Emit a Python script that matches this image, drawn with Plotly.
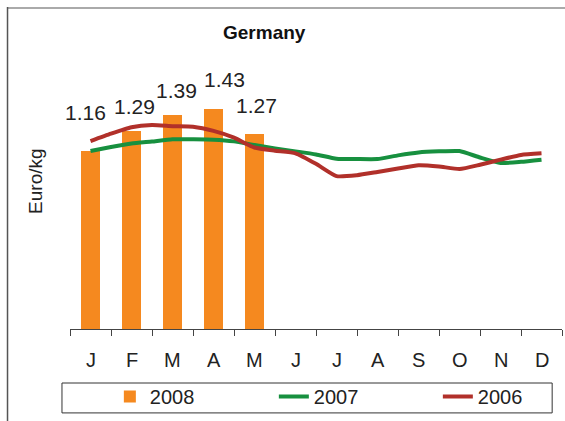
import plotly.graph_objects as go

MONTHS = ["J", "F", "M", "A", "M", "J", "J", "A", "S", "O", "N", "D"]

# 2008 monthly bars (Jan-May)
BAR_X = [0, 1, 2, 3, 4]
PRICE_2008 = [1.16, 1.29, 1.39, 1.43, 1.27]

# 2007 / 2006 lines, sampled every half month (0 = January)
LINE_X = [0, 0.5, 1, 1.5, 2, 2.5, 3, 3.5, 4, 4.5, 5, 5.5, 6, 6.5, 7, 7.5,
          8, 8.5, 9, 9.5, 10, 10.5, 11]
PRICE_2007 = [1.157, 1.183, 1.206, 1.219, 1.233, 1.233, 1.231, 1.220, 1.196,
              1.174, 1.155, 1.135, 1.107, 1.105, 1.105, 1.129, 1.148, 1.155,
              1.157, 1.115, 1.079, 1.087, 1.101]
PRICE_2006 = [1.222, 1.270, 1.312, 1.326, 1.319, 1.315, 1.288, 1.244, 1.180,
              1.159, 1.142, 1.074, 0.994, 1.000, 1.021, 1.043, 1.065, 1.057,
              1.040, 1.068, 1.101, 1.132, 1.142]

ORANGE = "#f5891f"
GREEN = "#17903f"
RED = "#b1302a"
FONT = "Liberation Sans, Arial, sans-serif"

fig = go.Figure()
fig.add_trace(go.Bar(x=BAR_X, y=PRICE_2008, name="2008", width=0.44,
                     marker=dict(color=ORANGE, line=dict(width=0))))
fig.add_trace(go.Scatter(x=LINE_X, y=PRICE_2007, name="2007", mode="lines",
                         line=dict(color=GREEN, width=4, shape="spline", smoothing=0.5)))
fig.add_trace(go.Scatter(x=LINE_X, y=PRICE_2006, name="2006", mode="lines",
                         line=dict(color=RED, width=4, shape="spline", smoothing=0.5)))

# value labels above the bars
label_dx = [-5, 3, 4, 11, 2]
label_dy = [38, 24, 25, 30, 28]
annotations = []
for i, v in enumerate(PRICE_2008):
    annotations.append(dict(x=BAR_X[i], y=v, xref="x", yref="y", text=f"{v:.2f}",
                            showarrow=False, xanchor="center", yanchor="middle",
                            xshift=label_dx[i], yshift=label_dy[i],
                            font=dict(family=FONT, size=21, color="#222")))
# month labels
for i, m in enumerate(MONTHS):
    annotations.append(dict(x=i, y=-0.12, xref="x", yref="paper", text=m,
                            showarrow=False, xanchor="center", yanchor="middle",
                            font=dict(family=FONT, size=20, color="#222")))
# title and axis title
annotations.append(dict(x=0.396, y=1.143, xref="paper", yref="paper", text="<b>Germany</b>",
                        showarrow=False, xanchor="center", yanchor="middle",
                        font=dict(family=FONT, size=19, color="#111")))
annotations.append(dict(x=-0.069, y=0.568, xref="paper", yref="paper", text="Euro/kg",
                        showarrow=False, xanchor="center", yanchor="middle", textangle=-90,
                        font=dict(family=FONT, size=19, color="#222")))

shapes = [
    # outer chart frame (top and left edges)
    dict(type="line", xref="paper", yref="paper", x0=-0.128, x1=1.02, y0=1.239, y1=1.239,
         line=dict(color="#aaaaaa", width=2)),
    dict(type="line", xref="paper", yref="paper", x0=-0.127, x1=-0.127, y0=1.243, y1=-0.4,
         line=dict(color="#555555", width=1.5)),
    # legend frame
    dict(type="rect", xref="paper", yref="paper", x0=-0.0163, x1=0.980, y0=-0.2085, y1=-0.324,
         line=dict(color="#333333", width=1), fillcolor="rgba(0,0,0,0)", layer="below"),
]

fig.update_layout(
    width=565, height=421,
    margin=dict(l=70, r=3, t=70, b=92, autoexpand=False),
    paper_bgcolor="white", plot_bgcolor="white",
    font=dict(family=FONT, size=19, color="#222"),
    showlegend=True,
    legend=dict(orientation="h", x=0.081, y=-0.185, xanchor="left", yanchor="top",
                borderwidth=0, bgcolor="rgba(0,0,0,0)",
                entrywidth=119, entrywidthmode="pixels",
                tracegroupgap=0, valign="middle",
                font=dict(family=FONT, size=20, color="#222"), traceorder="normal"),
    xaxis=dict(range=[-0.5, 11.5], tickvals=[k - 0.5 for k in range(13)],
               showticklabels=False, ticks="outside", ticklen=6, tickcolor="#444",
               tickwidth=1, showline=True, linecolor="#444", linewidth=1,
               showgrid=False, zeroline=False, fixedrange=True),
    yaxis=dict(range=[0, 1.684], showticklabels=False, showgrid=False, zeroline=False,
               showline=False, ticks="", fixedrange=True),
    annotations=annotations,
    shapes=shapes,
    bargap=0,
)

fig.write_html("out.html", config={"displayModeBar": False},
               post_script="document.body.style.margin='0';")
